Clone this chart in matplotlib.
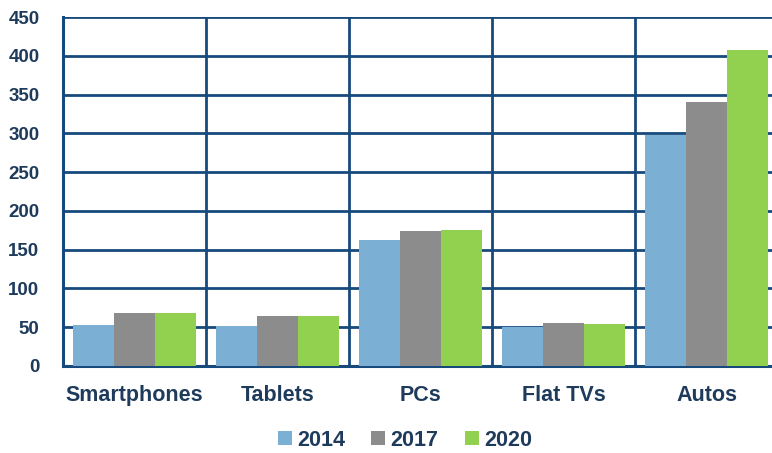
import numpy as np
import matplotlib
matplotlib.use("Agg")
import matplotlib.pyplot as plt
from matplotlib.patches import Patch

# Units per device category, by year
categories = ["Smartphones", "Tablets", "PCs", "Flat TVs", "Autos"]
years = ["2014", "2017", "2020"]
values_2014 = [53, 52, 162, 50, 298]
values_2017 = [68, 65, 174, 55, 340]
values_2020 = [68, 64, 176, 54, 408]
y_ticks = [0, 50, 100, 150, 200, 250, 300, 350, 400, 450]

COLORS = ["#7bafd4", "#8c8c8c", "#92d050"]
NAVY = "#174a7c"
LABEL = "#1f3b5c"

plt.rcParams["font.family"] = ["Liberation Sans", "DejaVu Sans"]

fig = plt.figure(figsize=(7.72, 4.53), dpi=100)
ax = fig.add_axes([63 / 772, 1 - 366 / 453, 715 / 772, 349 / 453])

x = np.arange(len(categories))
bar_w = 0.287
series = [values_2014, values_2017, values_2020]
for i, (vals, color) in enumerate(zip(series, COLORS)):
    ax.bar(x + (i - 1) * bar_w, vals, width=bar_w, color=color, zorder=3)

ax.set_xlim(-0.5, len(categories) - 0.5)
ax.set_ylim(0, 450)
ax.set_yticks(y_ticks)
ax.set_xticks(x)
ax.set_xticklabels(categories)

# horizontal gridlines and category separators
for y in y_ticks[1:]:
    ax.axhline(y, color=NAVY, lw=2.0, zorder=1)
for b in x[:-1] + 0.5:
    ax.axvline(b, color=NAVY, lw=2.0, zorder=1)

for side in ["top", "right"]:
    ax.spines[side].set_visible(False)
ax.spines["left"].set_color(NAVY)
ax.spines["left"].set_linewidth(2.2)
ax.spines["bottom"].set_color(NAVY)
ax.spines["bottom"].set_linewidth(2.2)

ax.tick_params(axis="both", length=0, colors=LABEL)
ax.tick_params(axis="y", pad=17, labelsize=13.5)
ax.tick_params(axis="x", pad=14, labelsize=15.5)
for lbl in ax.get_xticklabels() + ax.get_yticklabels():
    lbl.set_fontweight("bold")

handles = [Patch(facecolor=c, edgecolor="none") for c in COLORS]
fig.legend(handles, years, loc="center", bbox_to_anchor=(405 / 772, 1 - 440 / 453),
           ncol=3, frameon=False, handlelength=0.65, handleheight=0.65,
           handletextpad=0.25, columnspacing=1.2,
           prop={"weight": "bold", "size": 15.5}, labelcolor=LABEL)

fig.savefig("out.png", dpi=100)
